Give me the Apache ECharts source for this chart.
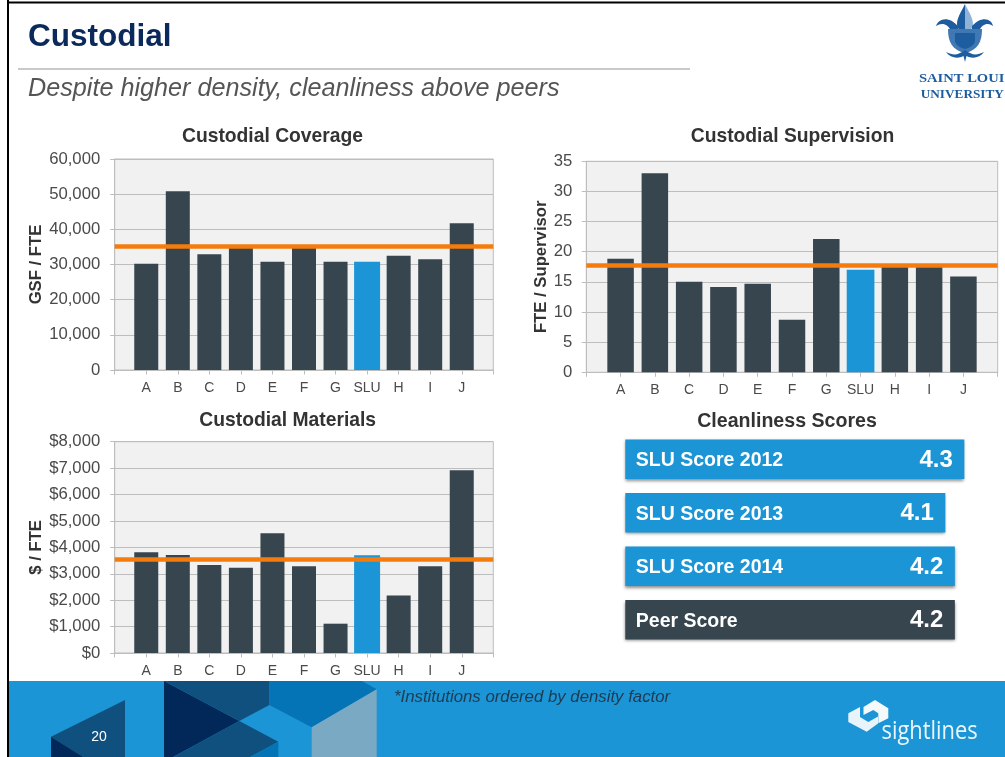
<!DOCTYPE html>
<html>
<head>
<meta charset="utf-8">
<style>html,body{margin:0;padding:0;background:#fff}#c{width:1005px;height:757px}</style>
<script src="https://cdn.jsdelivr.net/npm/echarts@6/dist/echarts.min.js"></script>
</head>
<body>
<div id="c"></div>
<script>
const categories = ['', 'A', 'B', 'C', 'D', 'E', 'F', 'G', 'SLU', 'H', 'I', 'J', ''];
const coverage = [null, 30200, 50800, 32900, 35000, 30800, 35000, 30800, 30800, 32500, 31500, 41700, null];
const supervision = [null, 18.85, 33, 15, 14.15, 14.7, 8.7, 22.1, 17, 17.7, 17.7, 15.9, null];
const materials = [null, 3810, 3710, 3330, 3230, 4530, 3280, 1110, 3700, 2180, 3280, 6915, null];
const coverageAvg = 35300;
const supervisionAvg = 17.8;
const materialsAvg = 3545;
const scoreNames = ['SLU Score 2012', 'SLU Score 2013', 'SLU Score 2014', 'Peer Score'];
const scoreValues = [4.3, 4.1, 4.2, 4.2];

const FONT = '"Liberation Sans", Arial, sans-serif';
const DARK = '#37454e', BLUE = '#1b95d5', ORANGE = '#f57c0c', GRID = '#bdbdbd';

const panels = [
  {title:'Custodial Coverage', tx:272.5, ty:136.5, name:'GSF / FTE', gap:70, values:coverage, avg:coverageAvg, max:60000, step:10000, l:114.7, t:159, w:378.6, h:211, bw:24, sw:26, fmt:v=>v.toLocaleString('en-US')},
  {title:'Custodial Supervision', tx:792.5, ty:137, name:'FTE / Supervisor', gap:36, values:supervision, avg:supervisionAvg, max:35, step:5, l:586.3, t:161.3, w:411.4, h:211, bw:26.5, sw:27.7, fmt:v=>String(v)},
  {title:'Custodial Materials', tx:287.7, ty:421, name:'$ / FTE', gap:70, values:materials, avg:materialsAvg, max:8000, step:1000, l:114.7, t:441.7, w:378.6, h:211.3, bw:24, sw:26, fmt:v=>'$'+v.toLocaleString('en-US')}
];

const grid=[], xAxis=[], yAxis=[], series=[], title=[];
const sluIdx = categories.indexOf('SLU');
panels.forEach((p,i)=>{
  grid.push({left:p.l, top:p.t, width:p.w, height:p.h, show:true, backgroundColor:'#f1f1f1', borderColor:GRID, borderWidth:1, containLabel:false});
  title.push({text:p.title, left:p.tx, top:p.ty, padding:0, textAlign:'center', textVerticalAlign:'middle',
    textStyle:{fontFamily:FONT, fontSize:19.3, fontWeight:'bold', color:'#333'}});
  const ax0 = xAxis.length;
  xAxis.push({type:'category', gridIndex:i, data:categories, boundaryGap:false,
    axisLine:{lineStyle:{color:GRID,width:1}}, axisTick:{show:true,alignWithLabel:true,length:4.5,lineStyle:{color:GRID}},
    axisLabel:{interval:0,color:'#4a4a4a',fontFamily:FONT,fontSize:14,margin:11}, splitLine:{show:false}});
  xAxis.push({type:'category', gridIndex:i, data:categories, boundaryGap:false, show:false});
  yAxis.push({type:'value', gridIndex:i, min:0, max:p.max, interval:p.step,
    name:p.name, nameLocation:'middle', nameGap:p.gap, nameRotate:90,
    nameTextStyle:{fontFamily:FONT,fontSize:16.7,fontWeight:'bold',color:'#333'},
    axisLine:{show:true,lineStyle:{color:GRID}}, axisTick:{show:true,length:4.5,lineStyle:{color:GRID}},
    axisLabel:{color:'#4a4a4a',fontFamily:FONT,fontSize:16.7,margin:i===1?14:14.5,formatter:p.fmt},
    splitLine:{show:true,lineStyle:{color:GRID,width:1}}});
  series.push({type:'bar', xAxisIndex:ax0, yAxisIndex:i, barWidth:p.bw, silent:true,
    data:p.values.map((v,k)=>k===sluIdx?null:v), itemStyle:{color:DARK},
    markLine:{silent:true, symbol:'none', animation:false, z:6, label:{show:false},
      lineStyle:{color:ORANGE,width:4.6,type:'solid'}, data:[{yAxis:p.avg}]}});
  series.push({type:'bar', xAxisIndex:ax0+1, yAxisIndex:i, barWidth:p.sw, silent:true,
    data:p.values.map((v,k)=>k===sluIdx?v:null), itemStyle:{color:BLUE}});
});

// Cleanliness score panel
grid.push({left:625.3, top:432.5, width:340, height:214, show:false});
title.push({text:'Cleanliness Scores', left:787, top:421.5, padding:0, textAlign:'center', textVerticalAlign:'middle',
  textStyle:{fontFamily:FONT, fontSize:19.6, fontWeight:'bold', color:'#333'}});
const sAx = xAxis.length;
xAxis.push({type:'value', gridIndex:3, min:0.73, max:4.31, show:false});
yAxis.push({type:'category', gridIndex:3, inverse:true, data:scoreNames, show:false});
series.push({type:'bar', xAxisIndex:sAx, yAxisIndex:3, barWidth:39.5, barGap:'-100%', silent:true,
  data:scoreValues.map((v,k)=>({value:v,itemStyle:{color:k===3?DARK:BLUE}})),
  itemStyle:{shadowBlur:3,shadowColor:'rgba(0,0,0,0.45)',shadowOffsetY:1.5},
  label:{show:true,position:'insideLeft',distance:10.5,offset:[0,1.5],formatter:p=>p.name,color:'#fff',fontFamily:FONT,fontSize:19.5,fontWeight:'bold'}});
series.push({type:'bar', xAxisIndex:sAx, yAxisIndex:3, barWidth:39.5, barGap:'-100%', silent:true,
  data:scoreValues, itemStyle:{color:'transparent'},
  label:{show:true,position:'insideRight',distance:11.5,offset:[0,1],formatter:p=>p.value.toFixed(1),color:'#fff',fontFamily:FONT,fontSize:24,fontWeight:'bold'}});

function poly(points, fill, z){ return {type:'polygon', shape:{points}, style:{fill}, z:z||1, silent:true}; }
function txt(text,x,y,style,extra){ return Object.assign({type:'text', x, y, silent:true, z:5, style:Object.assign({text,fontFamily:FONT,textVerticalAlign:'middle'},style)},extra||{}); }
let pathCount = 0;
function rawPath(d,fill){
  const name = 'logoPath' + (pathCount++);
  echarts.graphic.registerShape(name, echarts.graphic.extendPath(d, {}));
  return {type:name, shape:{}, style:{fill}, silent:true, z:3};
}

const NAVY='#02285a', MID='#10507f', BRIGHT='#0474b6', GRAYB='#7aa9c4', SLU='#1d5c9e';
const SERIF='"Liberation Serif", serif';
const graphicEls = [
  // frame
  {type:'rect', shape:{x:7,y:0,width:2,height:757}, style:{fill:'#000'}, silent:true, z:6},
  {type:'rect', shape:{x:7,y:1.5,width:998,height:2}, style:{fill:'#000'}, silent:true, z:6},
  // header
  txt('Custodial',28,37,{fontSize:31.5,fontWeight:'bold',fill:'#0b2a5b'}),
  {type:'rect', shape:{x:18,y:68,width:672,height:2}, style:{fill:'#c9c9c9'}, silent:true},
  txt('Despite higher density, cleanliness above peers',28,89,{fontSize:25.2,fontStyle:'italic',fill:'#555'}),
  // footer
  {type:'rect', shape:{x:9,y:681,width:996,height:76}, style:{fill:BLUE}, silent:true, z:0},
  poly([[164,681],[239.3,721],[173,757],[164,757]],NAVY),
  poly([[164,681],[269.3,681],[269.3,705],[239.3,721]],MID),
  poly([[269.3,681],[362,681],[376.7,689.3],[311.7,727.3],[269.3,705]],BRIGHT),
  poly([[376.7,689.3],[376.7,757],[311.7,757],[311.7,727.3]],GRAYB),
  poly([[239.3,721],[278.3,741.7],[250,757],[173,757]],MID),
  poly([[278.3,741.7],[278.3,757],[250,757]],BRIGHT),
  poly([[125,700],[125,757],[83.3,757],[51,736.7]],MID),
  poly([[51,736.7],[83.3,757],[51,757]],NAVY),
  txt('20',99,737,{fontSize:14,fill:'#fff',textAlign:'center'}),
  txt('*Institutions ordered by density factor',394,697,{fontSize:16.8,fontStyle:'italic',fill:'#1f3a50'}),
  // sightlines mark
  poly([[848.3,713.3],[860,707],[860,717],[868.3,722],[878,716.5],[878,723.5],[866.7,731.7],[848.3,722]],'#e8f3fa'),
  poly([[863.5,707],[875,700],[888.3,708.3],[888.3,718.3],[878.3,723.3],[878.3,713.3],[873.3,710],[863.5,715]],'#f4f9fc'),
  txt('sightlines',881.5,732,{fontSize:25,fontFamily:'"Open Sans", sans-serif',fill:'#eaf5fb'},{scaleX:0.875}),
  // university mark
  rawPath('M965 4 C961 12 957 18 957 24 C957 30 961 30 965 33 Z',SLU),
  rawPath('M965 4 C969 12 973 18 973 24 C973 30 969 30 965 33 Z','#8fb3d6'),
  rawPath('M958 26 C948 15 938 19 936 26 C942 22 948 24 951 31 L958 31 Z',SLU),
  rawPath('M972 26 C982 15 992 19 993 26 C988 22 982 24 979 31 L972 31 Z',SLU),
  rawPath('M948 29 L982 29 C982 42 978 50 965 53 C952 50 948 42 948 29 Z','#3f78b2'),
  rawPath('M955 33 L975 33 L975 42 C973 46 969 48 965 49 C961 48 957 46 955 42 Z','#1d5c9e'),
  rawPath('M965 50 C958 55 954 56 946 52 C950 58 958 59 963.5 56 L965 62 L966.5 56 C972 59 980 58 984 52 C976 56 972 55 965 50 Z',SLU),
  txt('SAINT LOUI',919,79,{fontFamily:SERIF,fontWeight:'bold',fontSize:13,fill:SLU},{scaleX:1.12}),
  txt('UNIVERSITY',920.7,95,{fontFamily:SERIF,fontWeight:'bold',fontSize:12.5,fill:SLU},{scaleX:1.06})
];

const chart = echarts.init(document.getElementById('c'), null, {renderer:'canvas', width:1005, height:757});
chart.setOption({animation:false, backgroundColor:'#fff', title, grid, xAxis, yAxis, series, tooltip:{show:false}, graphic:{elements:graphicEls}});
</script>
</body>
</html>
